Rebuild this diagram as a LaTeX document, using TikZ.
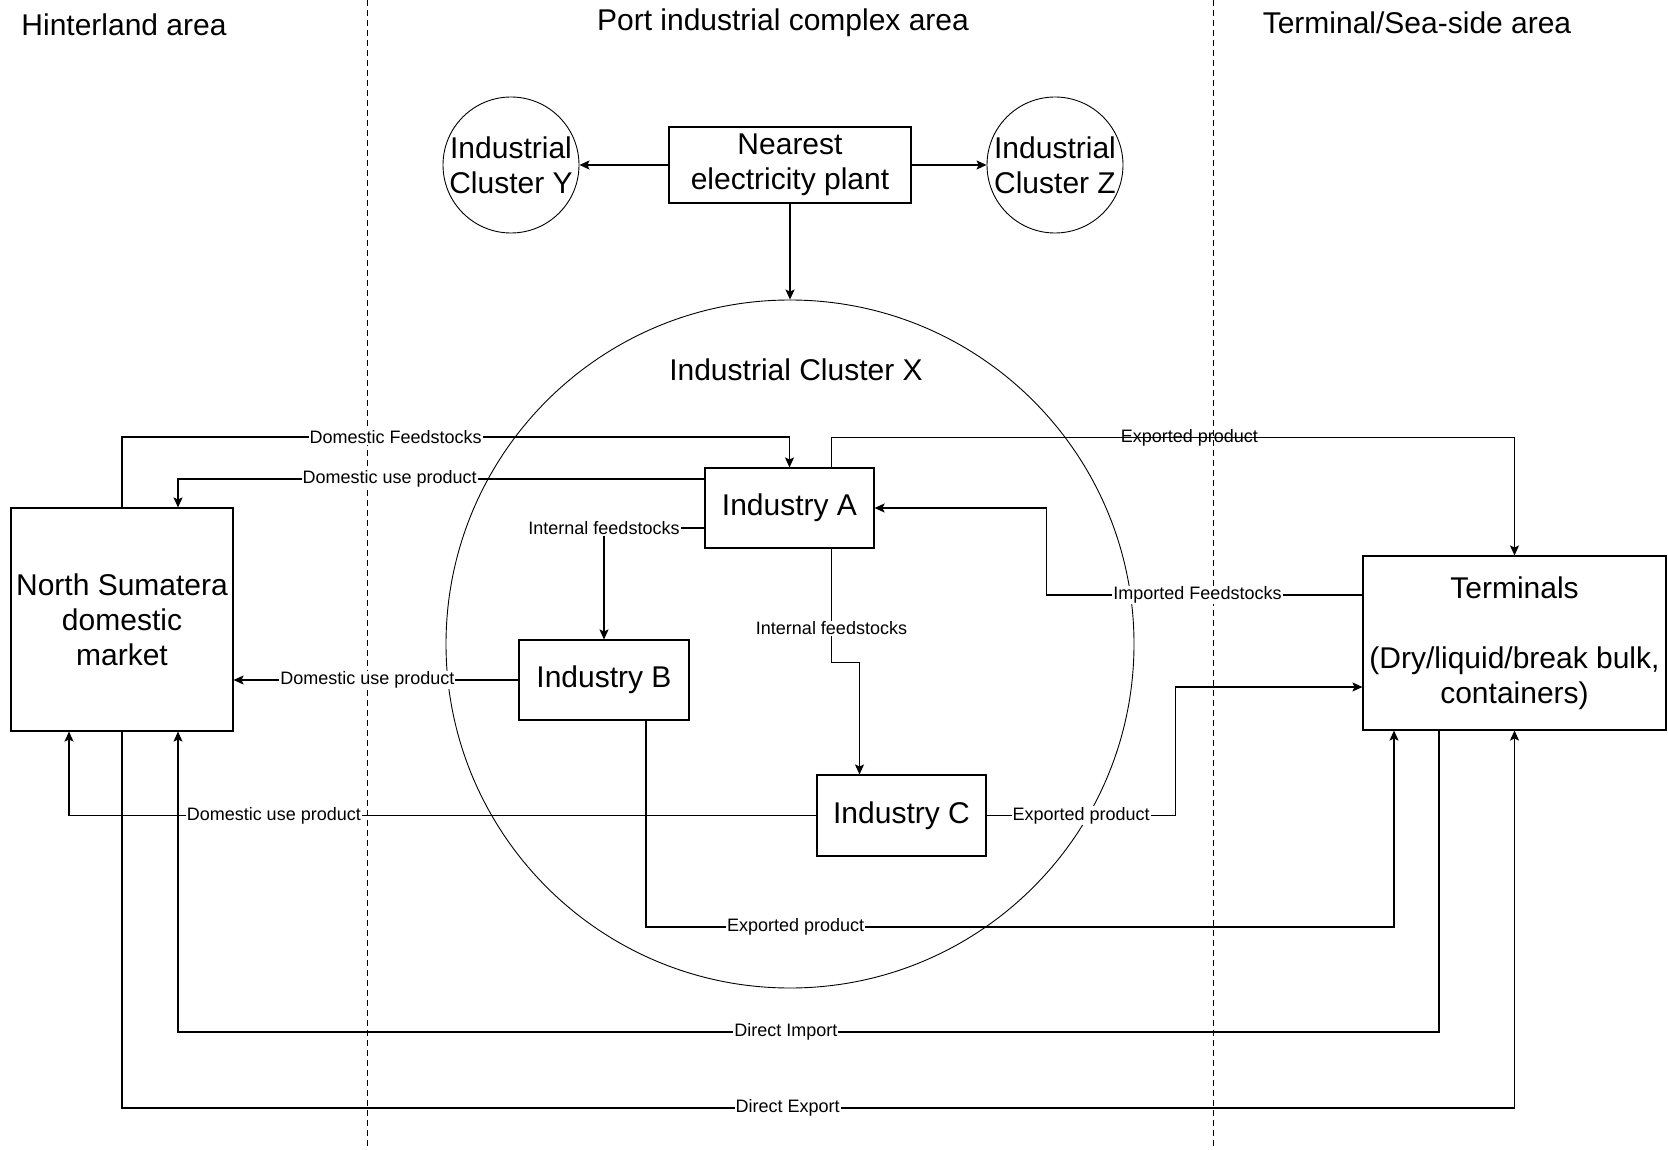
\documentclass[tikz,border=0pt]{standalone}
\usepackage{fontspec}
\setmainfont{Liberation Sans}
\usetikzlibrary{arrows.meta,calc}
\begin{document}
\begin{tikzpicture}[x=1pt,y=-1pt,
  every node/.style={font=\fontsize{30}{35}\selectfont},
  box/.style={draw,fill=white,line width=1.1pt,inner sep=0pt,align=center},
  lbl/.style={fill=white,inner sep=1pt,font=\fontsize{18}{20}\selectfont},
  nolbl/.style={inner sep=1pt,font=\fontsize{18}{20}\selectfont},
  arr/.style={line width=1.1pt,-{Stealth[length=10pt,width=9pt,inset=2pt]}},
  zone/.style={dash pattern=on 6pt off 4pt,line width=0.9pt},
  ring/.style={draw,circle,inner sep=0pt,line width=0.9pt,align=center}]
\useasboundingbox (0,0) rectangle (1668,1150);
% zone separators
\draw[zone] (367,0) -- (367,1150);
\draw[zone] (1213,0) -- (1213,1150);
% headers
\node (hint) at (124,25) {Hinterland area};
\node (port) at (783,23) {Port industrial complex area};
\node (seaz) at (1417,23) {Terminal/Sea-side area};
% clusters
\node[ring,minimum size=688pt] (cx) at (790,644) {};
\node (cxt) at (796,370) {Industrial Cluster X};
\node[ring,minimum size=136pt] (cy) at (511,165) {Industrial\\Cluster Y};
\node[ring,minimum size=136pt] (cz) at (1055,165) {Industrial\\Cluster Z};
% boxes
\node[box,minimum width=242pt,minimum height=76pt] (elec) at (790,165) {Nearest\\electricity plant};
\node[box,minimum width=222pt,minimum height=223pt] (ns) at (122,619.5) {North Sumatera\\domestic\\market};
\node[box,minimum width=169pt,minimum height=80pt] (indA) at (789.5,508) {Industry A};
\node[box,minimum width=170pt,minimum height=80pt] (indB) at (604,680) {Industry B};
\node[box,minimum width=169pt,minimum height=81pt] (indC) at (901.5,815.5) {Industry C};
\node[box,minimum width=303pt,minimum height=174pt] (term) at (1514.5,643) {Terminals\\[35pt](Dry/liquid/break bulk,\\containers)};
% helper coordinates
\coordinate (yDF) at (0,437);
\coordinate (yEB) at (0,927);
\coordinate (yDI) at (0,1032);
\coordinate (yDE) at (0,1108);
\coordinate (tB) at ([xshift=-120.5pt]term.south);
\coordinate (tI) at ([xshift=-75.5pt]term.south);
\coordinate (nI) at ([xshift=56pt]ns.south);
% connectors
\draw[arr] (elec) -- (cy);
\draw[arr] (elec) -- (cz);
\draw[arr] (elec) -- (cx);
\draw[arr] (ns.north) |- node[lbl,pos=0.705]{Domestic Feedstocks} (yDF -| indA.north) -- (indA.north);
\draw[arr] ([yshift=29pt]indA.west) -| node[lbl,pos=0.299]{Domestic use product} ([xshift=56pt]ns.north);
\draw[arr] ([yshift=-20pt]indA.west) -| node[lbl,pos=0.5]{Internal feedstocks} (indB.north);
\draw[arr] (indB.west) -- node[lbl,pos=0.53]{Domestic use product} (indB.west -| ns.east);
\draw[arr] ([xshift=42pt]indA.south) -- node[lbl,pos=0.7]{Internal feedstocks} ++(0,114) -| ([xshift=-42pt]indC.north);
\draw[arr] ([xshift=42pt]indA.north) -- ++(0,-30) -| node[nolbl,pos=0.262]{Exported product} (term.north);
\draw[arr] ([yshift=48pt]term.west) -- node[lbl,pos=0.522]{Imported Feedstocks} ++(-316,0) |- (indA.east);
\draw[arr] (indC.west) -| node[lbl,pos=0.363]{Domestic use product} ([xshift=-53pt]ns.south);
\draw[arr] (indC.east) -- node[lbl,pos=0.5]{Exported product} ++(189,0) |- ([yshift=-44pt]term.west);
\draw[arr] ([xshift=42pt]indB.south) |- node[lbl,pos=0.6]{Exported product} (yEB -| tB) -- (tB);
\draw[arr] (tI) |- node[lbl,pos=0.759]{Direct Import} (yDI -| nI) -- (nI);
\draw[arr] (ns.south) |- node[lbl,pos=0.739]{Direct Export} (yDE -| term.south) -- (term.south);
\end{tikzpicture}
\end{document}
